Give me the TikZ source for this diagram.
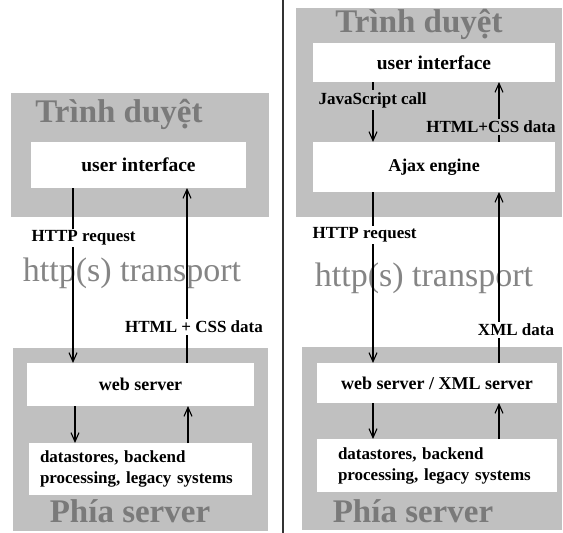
\documentclass[tikz,border=0pt]{standalone}
\usepackage{fontspec}
\setmainfont{Liberation Serif}
\usetikzlibrary{arrows.meta}
\definecolor{zonegray}{HTML}{C0C0C0}
\definecolor{titlegray}{HTML}{7A7A7A}
\definecolor{wiregray}{HTML}{858585}
\begin{document}
\begin{tikzpicture}[x=1pt, y=-1pt, line width=1.1pt,
		zone/.style={fill=zonegray},
		box/.style={fill=white, inner sep=0pt, outer sep=0pt,
			font=\fontsize{18}{20}\selectfont\bfseries},
		stack/.style={box, align=left, font=\fontsize{17}{21}\selectfont\bfseries},
		zonetitle/.style={text=titlegray, font=\fontsize{33}{36}\selectfont\bfseries},
		wire/.style={text=wiregray, font=\fontsize{34}{36}\selectfont},
		msg/.style={font=\fontsize{17}{19}\selectfont\bfseries, inner sep=2pt},
		flow/.style={-{Straight Barb[length=9pt, width=8pt]}}]
		\useasboundingbox[fill=white] (0,0) rectangle (563,533);
		% ---- left: classic web application ----
		\fill[zone] (11,93) rectangle (269,217);
		\fill[zone] (13,348) rectangle (268,531);
		\node[zonetitle] (br1) at (119,114) {Trình duyệt};
		\node[zonetitle] (sv1) at (130,511) {Phía server};
		\node[wire] (tr1) at (132,273) {http(s) transport};
		\node[box, minimum width=215, minimum height=46, font=\fontsize{19.5}{21}\selectfont\bfseries]
			(ui1) at (138.5,165) {user interface};
		\node[box, minimum width=227, minimum height=43] (ws1) at (140.5,384.5) {web server};
		\node[stack, inner xsep=11pt, text width=201, minimum height=52] (ds1) at (140.5,469)
			{datastores, backend\\processing, legacy systems};
		\coordinate (dn1) at (73,0);
		\coordinate (up1) at (187,0);
		\coordinate (dn1b) at (75,0);
		\coordinate (up1b) at (188,0);
		\draw[flow] (ui1.south -| dn1) -- (ws1.north -| dn1);
		\draw[flow] (ws1.north -| up1) -- (ui1.south -| up1);
		\draw[flow] (ws1.south -| dn1b) -- (ds1.north -| dn1b);
		\draw[flow] (ds1.north -| up1b) -- (ws1.south -| up1b);
		\node[msg, fill=white, anchor=west] (rq1) at (29,238) {HTTP request};
		\node[msg, fill=white] (rs1) at (194,327) {HTML + CSS data};
		% ---- divider ----
		\draw[line width=1.6pt, black!80] (283,0) -- (283,533);
		% ---- right: Ajax web application ----
		\fill[zone] (296,8) rectangle (562,217);
		\fill[zone] (302,347) rectangle (562,530);
		\node[zonetitle] (br2) at (419,24) {Trình duyệt};
		\node[zonetitle] (sv2) at (413,511) {Phía server};
		\node[wire] (tr2) at (424,278) {http(s) transport};
		\node[box, minimum width=242, minimum height=39, font=\fontsize{19.5}{21}\selectfont\bfseries]
			(ui2) at (434,62.5) {user interface};
		\node[box, minimum width=242, minimum height=50] (aj2) at (434,167) {Ajax engine};
		\node[box, minimum width=240, minimum height=40] (ws2) at (437,383) {web server / XML server};
		\node[stack, inner xsep=21pt, text width=198, minimum height=53] (ds2) at (437,465.5)
			{datastores, backend\\processing, legacy systems};
		\coordinate (dn2) at (373,0);
		\coordinate (up2) at (499,0);
		\draw[flow] (ui2.south -| dn2) -- (aj2.north -| dn2);
		\draw[flow] (aj2.north -| up2) -- (ui2.south -| up2);
		\draw[flow] (aj2.south -| dn2) -- (ws2.north -| dn2);
		\draw[flow] (ws2.north -| up2) -- (aj2.south -| up2);
		\draw[flow] (ws2.south -| dn2) -- (ds2.north -| dn2);
		\draw[flow] (ds2.north -| up2) -- (ws2.south -| up2);
		\node[msg, fill=zonegray, anchor=west] (js2) at (316,100) {JavaScript call};
		\node[msg, fill=zonegray] (rs2) at (491,127) {HTML+CSS data};
		\node[msg, fill=white, anchor=west] (rq2) at (310,235) {HTTP request};
		\node[msg, fill=white] (xd2) at (516,330) {XML data};
	\end{tikzpicture}
\end{document}
